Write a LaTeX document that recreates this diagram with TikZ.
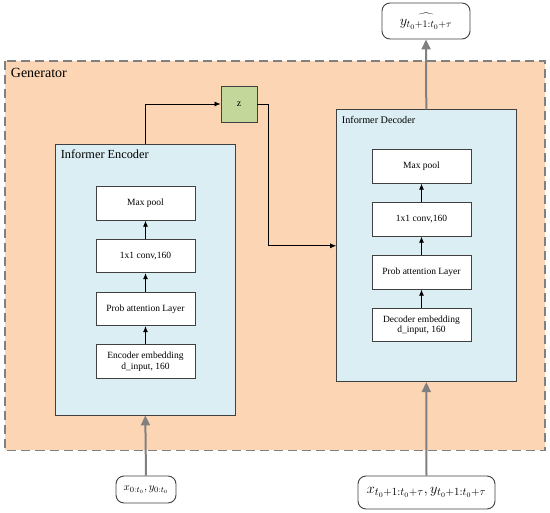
\documentclass[tikz,border=0pt]{standalone}
\usepackage{fontspec}
\setmainfont{Liberation Serif}
\usetikzlibrary{arrows.meta}
\definecolor{peach}{HTML}{FCD5B5}
\definecolor{lblue}{HTML}{DAEEF3}
\definecolor{lgreen}{HTML}{C4D79B}
\definecolor{edge}{HTML}{404040}
\definecolor{garrow}{HTML}{808080}
\tikzset{
  layerbox/.style={draw=edge, line width=0.9pt, fill=white, minimum width=99pt, minimum height=33.5pt, inner sep=1pt, align=center, font=\fontsize{9.5}{10.5}\selectfont},
  blockbox/.style={draw=edge, line width=0.9pt, fill=lblue, minimum width=179.5pt, minimum height=271pt, inner sep=0pt},
  iobox/.style={draw=edge, line width=0.9pt, fill=white, rounded corners=8pt, inner sep=0pt},
  thinarrow/.style={draw=black, line width=0.7pt, -{Latex[length=6pt,width=5pt]}},
  thickarrow/.style={draw=garrow, line width=2pt, -{Triangle[length=10pt,width=9pt]}},
  titletext/.style={inner sep=0pt, anchor=base west},
}
\begin{document}
\begin{tikzpicture}[x=1pt,y=-1pt]
\useasboundingbox (0,0) rectangle (550,513);
% generator
\draw[fill=peach, draw=garrow, line width=1.8pt, dash pattern=on 9pt off 5pt] (5,61) rectangle (545,450.5);
\node[titletext, font=\fontsize{14}{16}\selectfont] (gen) at (10.7,78) {Generator};
% blocks
\node[blockbox] (enc) at (145.3,279.5) {};
\node[blockbox, minimum height=271.7pt] (dec) at (426.3,245.8) {};
\node[titletext, font=\fontsize{12.3}{14}\selectfont] (enct) at (60.7,159) {Informer Encoder};
\node[titletext, font=\fontsize{10.2}{12}\selectfont] (dect) at (341.7,124) {Informer Decoder};
% encoder layers
\node[layerbox] (e1) at (145.5,203.5) {Max pool};
\node[layerbox] (e2) at (145.5,256) {1x1 conv,160};
\node[layerbox] (e3) at (145.5,309) {Prob attention Layer};
\node[layerbox] (e4) at (145.5,361.5) {Encoder embedding\\d\_input, 160};
% decoder layers
\node[layerbox] (d1) at (421.5,166.5) {Max pool};
\node[layerbox] (d2) at (421.5,219.5) {1x1 conv,160};
\node[layerbox] (d3) at (421.5,272.5) {Prob attention Layer};
\node[layerbox] (d4) at (421.5,325) {Decoder embedding\\d\_input, 160};
\draw[thinarrow] (e4) -- (e3);
\draw[thinarrow] (e3) -- (e2);
\draw[thinarrow] (e2) -- (e1);
\draw[thinarrow] (d4) -- (d3);
\draw[thinarrow] (d3) -- (d2);
\draw[thinarrow] (d2) -- (d1);
% z
\node[draw=edge, line width=0.9pt, fill=lgreen, minimum width=36pt, minimum height=36pt, inner sep=0pt, font=\fontsize{10}{12}\selectfont] (z) at (239,104) {z};
\coordinate (zc) at (268,104);
\draw[thinarrow] (enc.north) |- (z.west);
\draw[thinarrow] (z.east) -- (zc) |- (dec.west);
% io boxes
\node[iobox, minimum width=88pt, minimum height=36pt, font=\fontsize{14.5}{16}\selectfont] (yhat) at (426,21) {$\widehat{\vphantom{l}y_{t_0+1:t_0+\tau}}$};
\node[iobox, minimum width=60pt, minimum height=27pt, font=\fontsize{11}{13}\selectfont] (in1) at (146,489.5) {$x_{0:t_0}, y_{0:t_0}$};
\node[iobox, minimum width=137pt, minimum height=33pt, font=\fontsize{15}{17}\selectfont] (in2) at (426.5,492.5) {$x_{t_0+1:t_0+\tau}, y_{t_0+1:t_0+\tau}$};
\draw[thickarrow] (in1.north) -- (enc.south);
\draw[thickarrow] (in2.north) -- (dec.south);
\draw[thickarrow] (dec.north) -- (yhat.south);
\end{tikzpicture}
\end{document}
